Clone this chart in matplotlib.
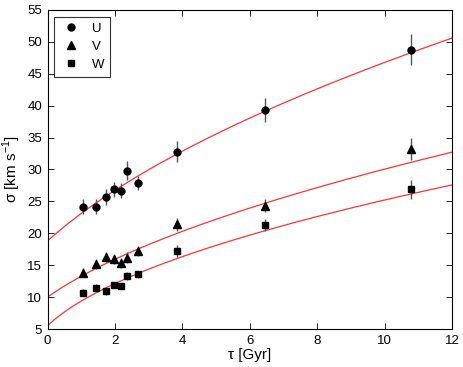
import numpy as np
import matplotlib
matplotlib.use("Agg")
from matplotlib import pyplot as plt

plt.rcParams['font.family'] = ['Liberation Sans', 'DejaVu Sans']
plt.rcParams['mathtext.fontset'] = 'custom'
plt.rcParams['mathtext.rm'] = 'Liberation Sans'

# ages of the bins [Gyr]
tau = [1.05, 1.45, 1.72, 1.96, 2.17, 2.36, 2.69, 3.84, 6.44, 10.76]

# velocity dispersions [km/s] and errors
sig_u = [24.2, 24.2, 25.7, 26.9, 26.7, 29.8, 27.9, 32.8, 39.3, 48.8]
err_u = [1.2, 1.2, 1.2, 1.2, 1.2, 1.5, 1.1, 1.6, 1.9, 2.5]
sig_v = [13.8, 15.2, 16.3, 16.0, 15.3, 16.2, 17.2, 21.4, 24.3, 33.2]
err_v = [0.7, 0.8, 0.8, 0.8, 0.8, 0.8, 0.8, 1.0, 1.0, 1.7]
sig_w = [10.7, 11.5, 10.9, 11.85, 11.75, 13.3, 13.55, 17.2, 21.3, 26.9]
err_w = [0.5, 0.5, 0.5, 0.5, 0.5, 0.6, 0.6, 0.9, 1.0, 1.5]

# power-law fits sigma = a * (tau + t1)^beta  (U, V, W)
fit_a = [13.21, 8.38, 7.48]
fit_t1 = [2.0, 1.4, 0.55]
fit_beta = [0.509, 0.525, 0.516]

fig = plt.figure(figsize=(4.63, 3.67), dpi=100)
ax = fig.add_axes([0.1026, 0.1035, 0.8744, 0.8693])

t = np.linspace(0, 12, 300)
for a, t1, b in zip(fit_a, fit_t1, fit_beta):
    ax.plot(t, a * (t + t1) ** b, color='#ff3333', lw=0.9, zorder=1)

sizes = {'o': 5, '^': 5.6, 's': 4.2}
for s, e, m, lab in [(sig_u, err_u, 'o', 'U'), (sig_v, err_v, '^', 'V'), (sig_w, err_w, 's', 'W')]:
    ax.errorbar(tau, s, yerr=e, fmt='none', ecolor='#555555', elinewidth=1.0, zorder=2)
    ax.plot(tau, s, m, color='black', ms=sizes[m], label=lab, zorder=3)

ax.set_xlim(0, 12)
ax.set_ylim(5, 55)
ax.set_xticks(range(0, 13, 2))
ax.set_yticks(range(5, 56, 5))
ax.tick_params(direction='in', top=True, right=True, labelsize=9.5, length=4, width=0.6, pad=4)
for sp in ax.spines.values():
    sp.set_linewidth(0.8)

ax.set_xlabel('τ [Gyr]', fontsize=11, labelpad=1)
ax.set_ylabel('σ [km s$^{-1}$]', fontsize=11, labelpad=3)

leg = ax.legend(loc='upper left', fontsize=9.5, frameon=True, fancybox=False,
                edgecolor='black', handlelength=1.6, borderpad=0.45,
                labelspacing=0.45, handletextpad=0.8, borderaxespad=0.5)
leg.get_frame().set_linewidth(0.8)

fig.savefig('out.png', dpi=100)
